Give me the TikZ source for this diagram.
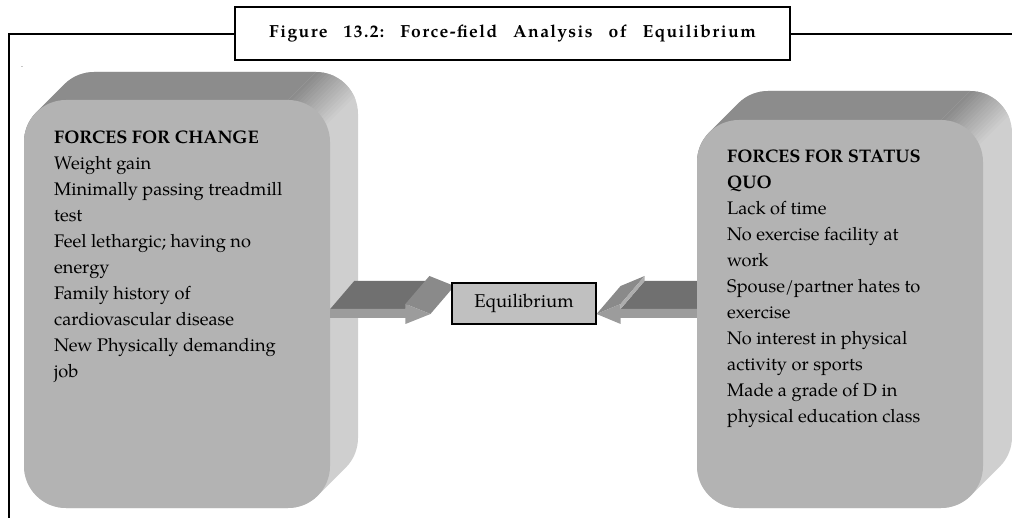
\documentclass[tikz,border=0pt]{standalone}
\usepackage{fontspec}
\setmainfont{texgyrepagella}[Extension=.otf, UprightFont=*-regular, BoldFont=*-bold, ItalicFont=*-italic, BoldItalicFont=*-bolditalic]
\newfontfamily\titlefont{texgyrepagella}[Extension=.otf, UprightFont=*-bold, LetterSpace=8]
\usepackage{tikz}
\usetikzlibrary{calc}
\definecolor{facegray}{HTML}{B3B3B3}
\definecolor{topgray}{HTML}{8C8C8C}
\definecolor{sidegray}{HTML}{CFCFCF}
\definecolor{eqgray}{HTML}{C0C0C0}
\definecolor{shafttop}{HTML}{707070}
\definecolor{shaftfront}{HTML}{9C9C9C}
\definecolor{headslope}{HTML}{8A8A8A}
\definecolor{headedge}{HTML}{ADADAD}
\newcommand{\rr}{42}
\newcommand{\bw}{4.2}
\newcommand{\gap}{\hspace{16pt}}
% extruded slab behind a face: x0,y0,x1,y1,depth
\newcommand{\slab}[5]{%
  \begin{scope}
    \clip ({#1+\rr+#5-0.7071*\rr},{#2+\rr-#5-0.7071*\rr})
      arc[start angle=225,end angle=270,radius=\rr]
      -- ({#3-\rr+#5},{#2-#5})
      arc[start angle=270,end angle=360,radius=\rr]
      -- ({#3+#5},{#4-\rr-#5})
      arc[start angle=0,end angle=45,radius=\rr]
      -- ({#3-\rr+0.7071*\rr},{#4-\rr+0.7071*\rr})
      arc[start angle=45,end angle=90,radius=\rr]
      -- ({#1+\rr},#4)
      arc[start angle=90,end angle=180,radius=\rr]
      -- (#1,{#2+\rr})
      arc[start angle=180,end angle=225,radius=\rr]
      -- cycle;
    \fill[sidegray] (#1-50,#2-50) rectangle (#3+50,#4+50);
    \pgfmathsetmacro{\sa}{#3+#2-\rr}
    \fill[topgray] ({\sa+100},-100) -- ({\sa-700},700) -- ({\sa-1500},-100) -- cycle;
    \foreach \i in {0,...,15}{
      \pgfmathsetmacro{\sb}{\sa+\i*\bw}
      \pgfmathtruncatemacro{\pc}{100-\i*100/15}
      \fill[topgray!\pc!sidegray] ({\sb+100},-100) -- ({\sb+\bw+100.5},-100)
        -- ({\sb+\bw-699.5},700) -- ({\sb-700},700) -- cycle;
    }
  \end{scope}
}
\tikzset{
  frame/.style={line width=1.6pt},
  titlebox/.style={draw, fill=white, line width=1.6pt, minimum width=555pt,
    minimum height=53pt, inner sep=0pt, font=\titlefont\fontsize{17.5}{20}\selectfont},
  face/.style={fill=facegray, rounded corners=42pt, inner sep=0pt},
  facetext/.style={anchor=north west, align=left, inner sep=0pt,
    font=\fontsize{18.2}{26}\selectfont},
  eqbox/.style={draw, fill=eqgray, line width=1.2pt, minimum width=144pt,
    minimum height=41pt, inner sep=0pt, font=\fontsize{18.5}{20}\selectfont},
  arrowtop/.style={fill=shafttop},
  arrowfront/.style={fill=shaftfront},
  arrowslope/.style={fill=headslope},
  arrowedge/.style={fill=headedge}
}

\begin{document}
\begin{tikzpicture}[x=1pt,y=-1pt]
  \useasboundingbox (0,0) rectangle (1012,518);

  \draw[frame] (9,518) -- (9,34) -- (1012,34);
  \node[titlebox] (title) at (512.5,33.5)
    {Figure\gap 13.2:\gap Force-field\gap Analysis\gap of\gap Equilibrium};
  \node[font=\fontsize{8}{8}\selectfont, inner sep=0pt] (dot) at (22,67) {.};

  % forces for change
  \slab{24}{100}{330}{508}{28}
  \node[face, minimum width=306pt, minimum height=408pt] (change) at (177,304) {};
  \node[facetext] (changetxt) at (54,131) {\textbf{FORCES FOR CHANGE}\\Weight gain\\Minimally passing treadmill\\test\\Feel lethargic; having no\\energy\\Family history of\\cardiovascular disease\\New Physically demanding\\job};

  \node[eqbox] (equi) at (524,303.5) {Equilibrium};

  % left arrow
  \coordinate (ltip) at ($(equi.west)+(-21,10.5)$);
  \begin{scope}[shift={(ltip)}]
    \fill[arrowtop] (change.east |- 0,-5) -- ++(24,-28) -- (-1,-33) -- (-25,-5) -- cycle;
    \fill[arrowslope] (-25,-10) -- (-1,-38) -- (24,-28) -- (0,0) -- cycle;
    \fill[arrowfront] (change.east |- 0,-5) -- (-25,-5) -- (-25,-10) -- (0,0)
      -- (-25,10) -- (-25,4) -- (change.east |- 0,4) -- cycle;
  \end{scope}

  % right arrow
  \coordinate (rtip) at ($(equi.east)+(0,10.5)$);
  \begin{scope}[shift={(rtip)}]
    \fill[arrowtop] (24,-5) -- (48,-33) -- (150,-33) -- (150,-5) -- cycle;
    \fill[arrowslope] (0,0) -- (24,-10) -- (48,-38) -- (24,-28) -- cycle;
    \fill[arrowedge] (24,-10) -- (48,-38) -- (48,-33) -- (24,-5) -- cycle;
    \fill[arrowfront] (150,-5) -- (24,-5) -- (24,-10) -- (0,0)
      -- (24,10) -- (24,4) -- (150,4) -- cycle;
  \end{scope}

  % forces for status quo
  \slab{697}{120}{983}{508}{29}
  \node[face, minimum width=286pt, minimum height=388pt] (quo) at (840,314) {};
  \node[facetext] (quotxt) at (727,150) {\textbf{FORCES FOR STATUS}\\\textbf{QUO}\\Lack of time\\No exercise facility at\\work\\Spouse/partner hates to\\exercise\\No interest in physical\\activity or sports\\Made a grade of D in\\physical education class};

  \node[eqbox] at (equi) {Equilibrium};
\end{tikzpicture}
\end{document}
